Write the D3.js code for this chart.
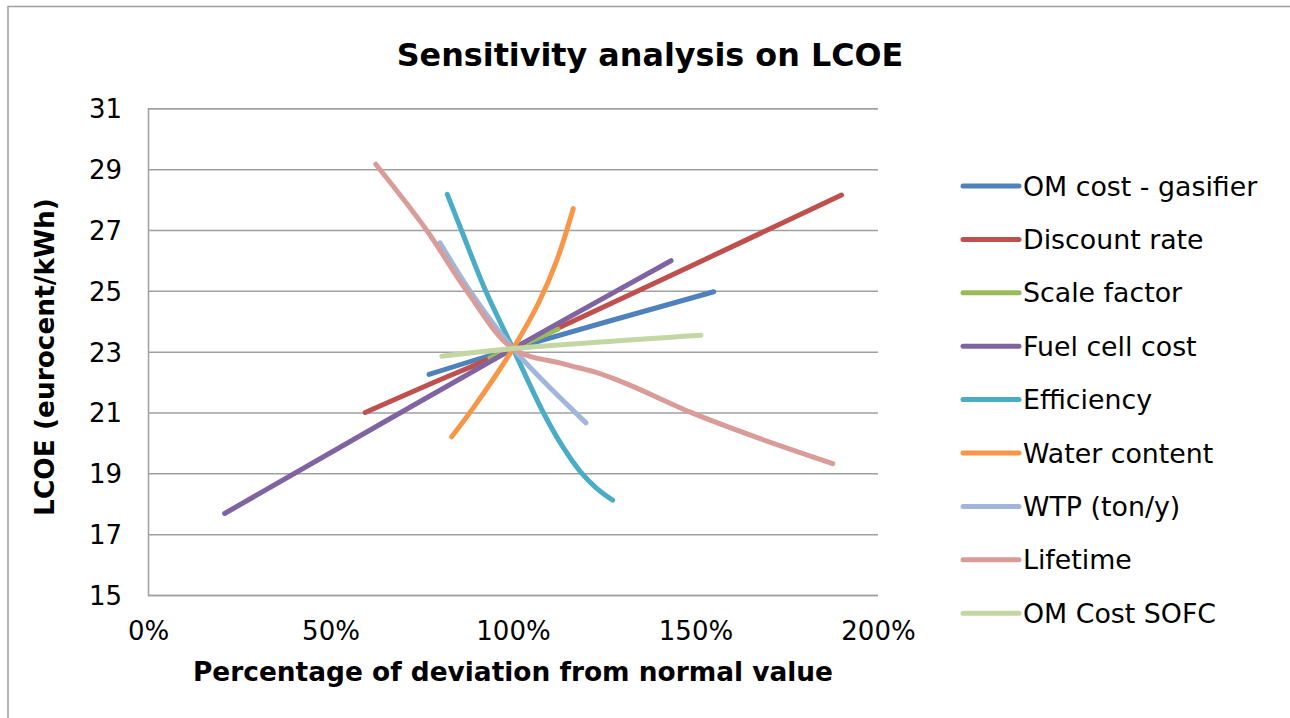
<!DOCTYPE html>
<html>
<head>
<meta charset="utf-8">
<script src="https://cdn.jsdelivr.net/npm/d3@7"></script>
<style>
  html, body { margin: 0; padding: 0; background: #fff; }
  svg { display: block; font-family: "DejaVu Sans", Verdana, sans-serif; }
</style>
</head>
<body>
<svg id="chart" width="1290" height="718"></svg>
<script>
// ---- Data ----
const chartTitle = "Sensitivity analysis on LCOE";
const xAxisTitle = "Percentage of deviation from normal value";
const yAxisTitle = "LCOE (eurocent/kWh)";

const seriesNames = [
  "OM cost - gasifier", "Discount rate", "Scale factor", "Fuel cell cost",
  "Efficiency", "Water content", "WTP (ton/y)", "Lifetime", "OM Cost SOFC"
];
const seriesColors = [
  "#4F81BD", "#C0504D", "#9BBB59", "#8064A2",
  "#4BACC6", "#F79646", "#A0B6DA", "#D99C99", "#C3D6A3"
];

// [percentage of normal value, LCOE eurocent/kWh]
const omCostGasifier = [[77, 22.25], [100, 23.1], [155, 24.97]];
const discountRate   = [[59.5, 21.0], [77, 21.92], [100, 23.1], [190, 28.15]];
const scaleFactor    = [[93.7, 22.8], [100, 23.1], [112.3, 23.74]];
const fuelCellCost   = [[21, 17.68], [100, 23.1], [143.3, 25.99]];
const efficiency     = [[82, 28.17], [86, 26.95], [92.5, 25.0], [100, 23.1], [108.3, 21.0], [113.5, 19.9], [118.5, 19.05], [123, 18.5], [127.3, 18.12]];
const waterContent   = [[83.2, 20.2], [90, 21.3], [100, 23.1], [107, 24.6], [112, 26.0], [116.5, 27.7]];
const wtp            = [[80, 26.58], [88.2, 25.0], [100, 23.1], [120, 20.66]];
const lifetime       = [[62.4, 29.16], [76.3, 27.0], [87.3, 25.0], [100, 23.1], [113.8, 22.6], [123.8, 22.28], [132, 21.9], [149.4, 20.97], [167.7, 20.14], [187.6, 19.32]];
const omCostSofc     = [[80.5, 22.85], [100, 23.1], [151.5, 23.54]];

const seriesData = [omCostGasifier, discountRate, scaleFactor, fuelCellCost,
                    efficiency, waterContent, wtp, lifetime, omCostSofc];

const xTicks = [0, 50, 100, 150, 200];
const yTicks = [15, 17, 19, 21, 23, 25, 27, 29, 31];

// ---- Layout ----
const svg = d3.select("#chart");
const plot = { left: 148, right: 878, top: 108.3, bottom: 595 };

const x = d3.scaleLinear().domain([0, 200]).range([plot.left, plot.right]);
const y = d3.scaleLinear().domain([15, 31]).range([plot.bottom, plot.top]);

// outer chart border
svg.append("rect")
  .attr("x", 8).attr("y", 6.5)
  .attr("width", 1400).attr("height", 800)
  .attr("fill", "none").attr("stroke", "#a0a0a0").attr("stroke-width", 1.5);

// title
svg.append("text")
  .attr("x", 650).attr("y", 66)
  .attr("text-anchor", "middle")
  .attr("font-size", 31.8).attr("font-weight", "bold")
  .text(chartTitle);

// y axis with gridlines
const yAxis = svg.append("g")
  .attr("transform", `translate(${plot.left},0)`)
  .call(d3.axisLeft(y).tickValues(yTicks).tickSize(-(plot.right - plot.left)).tickPadding(26));
yAxis.select(".domain").attr("stroke", "#a0a0a0").attr("stroke-width", 1.5);
yAxis.selectAll(".tick line").attr("stroke", "#a0a0a0").attr("stroke-width", 1.5);
yAxis.selectAll(".tick text")
  .attr("font-size", 26).attr("fill", "#000")
  .attr("font-family", "DejaVu Sans, Verdana, sans-serif")
  .attr("dy", "0.36em");

// x axis labels
const xAxis = svg.append("g")
  .attr("transform", `translate(0,${plot.bottom})`)
  .call(d3.axisBottom(x).tickValues(xTicks).tickSize(0).tickPadding(27).tickFormat(d => d + "%"));
xAxis.select(".domain").remove();
xAxis.selectAll(".tick text")
  .attr("font-size", 26).attr("fill", "#000")
  .attr("font-family", "DejaVu Sans, Verdana, sans-serif");

// axis titles
svg.append("text")
  .attr("x", 513).attr("y", 681)
  .attr("text-anchor", "middle")
  .attr("font-size", 26.4).attr("font-weight", "bold")
  .text(xAxisTitle);

svg.append("text")
  .attr("transform", "translate(54,357) rotate(-90)")
  .attr("text-anchor", "middle")
  .attr("font-size", 26.4).attr("font-weight", "bold")
  .text(yAxisTitle);

// lines
const line = d3.line()
  .x(d => x(d[0]))
  .y(d => y(d[1]))
  .curve(d3.curveCatmullRom.alpha(0.5));

svg.append("g").selectAll("path")
  .data(seriesData)
  .join("path")
  .attr("d", line)
  .attr("fill", "none")
  .attr("stroke", (d, i) => seriesColors[i])
  .attr("stroke-width", 5)
  .attr("stroke-linecap", "round")
  .attr("stroke-linejoin", "round");

// legend
const legend = svg.append("g");
const legendTop = 186, legendStep = 53.4;
const items = legend.selectAll("g")
  .data(seriesNames)
  .join("g")
  .attr("transform", (d, i) => `translate(963,${legendTop + i * legendStep})`);
items.append("line")
  .attr("x1", 0).attr("x2", 56).attr("y1", 0).attr("y2", 0)
  .attr("stroke", (d, i) => seriesColors[i])
  .attr("stroke-width", 5)
  .attr("stroke-linecap", "round");
items.append("text")
  .attr("x", 60).attr("y", 0).attr("dy", "0.36em")
  .attr("font-size", 26.8)
  .text(d => d);
</script>
</body>
</html>
